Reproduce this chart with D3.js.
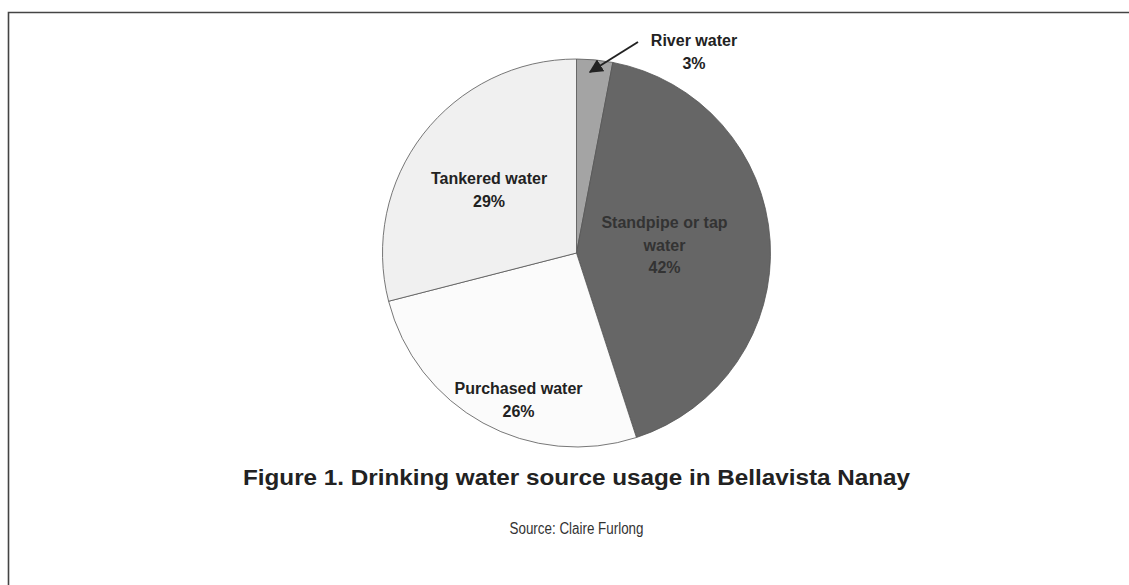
<!DOCTYPE html>
<html><head><meta charset="utf-8">
<script src="https://cdn.jsdelivr.net/npm/d3@7"></script>
<style>html,body{margin:0;padding:0;background:#fff;}svg{display:block;}</style>
</head><body>
<svg id="c" width="1129" height="585"></svg>
<script>
const categories = ["River water", "Standpipe or tap water", "Purchased water", "Tankered water"];
const values = [3, 42, 26, 29];
const labelLines = [["River water","3%"],["Standpipe or tap","water","42%"],["Purchased water","26%"],["Tankered water","29%"]];
const colors = ["#a4a4a4", "#666666", "#fbfbfb", "#f0f0f0"];
const textColors = ["#222", "#333", "#222", "#222"];
const title = "Figure 1. Drinking water source usage in Bellavista Nanay";
const source = "Source: Claire Furlong";

const svg = d3.select("#c");
const W = 1129, H = 585;
svg.append("rect").attr("width", W).attr("height", H).attr("fill", "#fff");
svg.append("path").attr("d", `M8.5,${H} L8.5,12.5 L${W},12.5`).attr("fill","none").attr("stroke","#444").attr("stroke-width",1.6);

const cx = 576.5, cy = 253, r = 194;
const g = svg.append("g").attr("transform", `translate(${cx},${cy})`);
const pie = d3.pie().sort(null).value(d => d)(values);
const arc = d3.arc().innerRadius(0).outerRadius(r);
g.selectAll("path.s").data(pie).join("path").attr("class","s")
  .attr("d", arc).attr("fill", (d,i) => colors[i])
  .attr("stroke", "#555").attr("stroke-width", 0.8);

const labelPos = [[117.5, -207], [88, -25], [-58, 141], [-87.5, -69]];
labelLines.forEach((lines, i) => {
  const t = g.append("text").attr("text-anchor","middle")
    .attr("font-family","Liberation Sans, Arial, sans-serif").attr("font-weight","bold")
    .attr("font-size", 16).attr("fill", textColors[i]);
  lines.forEach((ln, j) => {
    t.append("tspan").attr("x", labelPos[i][0]).attr("y", labelPos[i][1] + j*22.5).text(ln);
  });
});

svg.append("defs").append("marker").attr("id","ah").attr("viewBox","0 0 10 10")
  .attr("refX",9).attr("refY",5).attr("markerWidth",7).attr("markerHeight",7).attr("orient","auto")
  .append("path").attr("d","M0,0 L10,5 L0,10 Z").attr("fill","#222");
svg.append("line").attr("x1", 638).attr("y1", 42).attr("x2", 590).attr("y2", 72)
  .attr("stroke","#222").attr("stroke-width",2).attr("marker-end","url(#ah)");

svg.append("text").attr("x", 576.5).attr("y", 485).attr("text-anchor","middle")
  .attr("font-family","Liberation Sans, Arial, sans-serif").attr("font-weight","bold")
  .attr("font-size", 22).attr("fill","#222")
  .attr("textLength", 667).attr("lengthAdjust","spacingAndGlyphs").text(title);
svg.append("text").attr("x", 576.5).attr("y", 534).attr("text-anchor","middle")
  .attr("font-family","Liberation Sans, Arial, sans-serif")
  .attr("font-size", 16).attr("fill","#333")
  .attr("textLength", 134).attr("lengthAdjust","spacingAndGlyphs").text(source);
</script>
</body></html>
